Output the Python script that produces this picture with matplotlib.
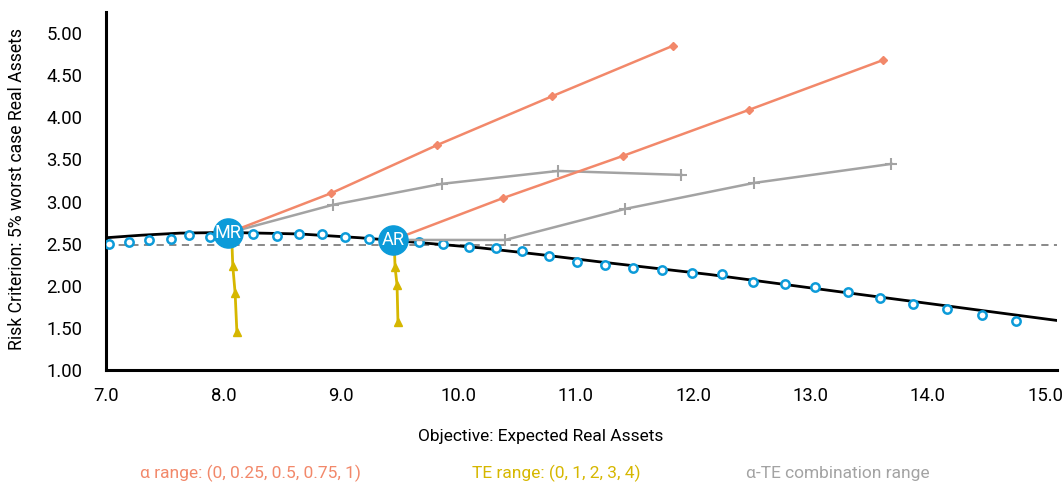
import matplotlib
matplotlib.use("Agg")
import matplotlib.pyplot as plt
import numpy as np

plt.rcParams['font.family'] = ['Roboto', 'DejaVu Sans']

# efficient frontier points (blue circles)
front_x = [7.03, 7.20, 7.37, 7.55, 7.71, 7.89, 8.25, 8.46, 8.64, 8.84, 9.04, 9.24,
           9.67, 9.87, 10.09, 10.32, 10.54, 10.77, 11.01, 11.25, 11.49, 11.74, 11.99,
           12.25, 12.51, 12.78, 13.04, 13.32, 13.59, 13.87, 14.16, 14.46, 14.75]
front_y = [2.49, 2.52, 2.54, 2.56, 2.60, 2.58, 2.62, 2.59, 2.62, 2.62, 2.58, 2.56,
           2.52, 2.50, 2.46, 2.45, 2.41, 2.35, 2.28, 2.25, 2.21, 2.19, 2.15,
           2.14, 2.05, 2.02, 1.99, 1.93, 1.86, 1.78, 1.72, 1.65, 1.58]

# smooth frontier (black)
curve_x = [7.0, 7.3, 7.63, 8.04, 8.65, 9.16, 9.44, 10.19, 10.7, 11.21, 12.14, 13.34, 14.2, 15.1]
curve_y = [2.57, 2.60, 2.625, 2.633, 2.615, 2.57, 2.54, 2.45, 2.37, 2.283, 2.134, 1.912, 1.754, 1.588]

threshold = 2.485

# MR / AR portfolios
mr = (8.04, 2.627)
ar = (9.445, 2.544)

# alpha range (orange)
alpha_mr_x = [8.04, 8.92, 9.82, 10.80, 11.83]
alpha_mr_y = [2.627, 3.10, 3.67, 4.25, 4.85]
alpha_ar_x = [9.445, 10.38, 11.40, 12.48, 13.62]
alpha_ar_y = [2.544, 3.04, 3.54, 4.09, 4.68]

# TE range (yellow)
te_mr_x = [8.07, 8.08, 8.10, 8.115]
te_mr_y = [2.62, 2.235, 1.914, 1.451]
te_ar_x = [9.455, 9.462, 9.479, 9.487]
te_ar_y = [2.54, 2.223, 2.01, 1.57]

# alpha-TE combination (gray)
comb_mr_x = [8.04, 8.93, 9.86, 10.85, 11.90]
comb_mr_y = [2.627, 2.96, 3.21, 3.363, 3.316]
comb_ar_x = [9.445, 10.40, 11.42, 12.52, 13.69]
comb_ar_y = [2.544, 2.544, 2.912, 3.221, 3.447]

ORANGE = '#F2886A'
YELLOW = '#D6B700'
GRAY = '#A3A3A3'
BLUE = '#0C9BD9'

fig = plt.figure(figsize=(10.64, 4.86), dpi=100)
ax = fig.add_axes([0.0996, 0.2387, 0.8938, 0.7366])

ax.axhline(threshold, color='#808080', lw=1.3, ls=(0, (4, 3)), zorder=1)
ax.plot(curve_x, curve_y, color='black', lw=2, zorder=2)
ax.plot(front_x, front_y, ls='none', marker='o', ms=6, mfc='white',
        mec=BLUE, mew=1.8, zorder=3)

for xs, ys in [(comb_mr_x, comb_mr_y), (comb_ar_x, comb_ar_y)]:
    ax.plot(xs, ys, color=GRAY, lw=1.8, marker='+', ms=9, mew=1.5, zorder=4)
for xs, ys in [(alpha_mr_x, alpha_mr_y), (alpha_ar_x, alpha_ar_y)]:
    ax.plot(xs, ys, color=ORANGE, lw=1.8, marker='D', ms=4.5, zorder=5)
for xs, ys in [(te_mr_x, te_mr_y), (te_ar_x, te_ar_y)]:
    ax.plot(xs, ys, color=YELLOW, lw=2, marker='^', ms=6, zorder=5)

for (px, py), lab in [(mr, 'MR'), (ar, 'AR')]:
    ax.plot(px, py, marker='o', ms=21, color=BLUE, mec=BLUE, zorder=7)
    ax.text(px, py, lab, color='white', ha='center', va='center',
            fontsize=13, zorder=8)

ax.set_xlim(7.0, 15.1)
ax.set_ylim(1.0, 5.25)
ax.set_xticks(np.arange(7, 16, 1))
ax.set_xticklabels([f'{v:.1f}' for v in np.arange(7, 16, 1)])
ax.set_yticks(np.arange(1, 5.01, 0.5))
ax.set_yticklabels([f'{v:.2f}' for v in np.arange(1, 5.01, 0.5)])
ax.tick_params(length=0, labelsize=13.3)
ax.tick_params(axis='y', pad=17)
ax.tick_params(axis='x', pad=12)
for s in ['top', 'right']:
    ax.spines[s].set_visible(False)
ax.spines['left'].set_linewidth(2.2)
ax.spines['bottom'].set_linewidth(2.2)

fig.text(0.508, 0.101, 'Objective: Expected Real Assets', fontsize=12.5,
         ha='center', va='center')
fig.text(0.016, 0.611, 'Risk Criterion: 5% worst case Real Assets', fontsize=12.7,
         ha='center', va='center', rotation=90)

fig.text(0.235, 0.025, 'α range: (0, 0.25, 0.5, 0.75, 1)', color=ORANGE,
         fontsize=12.5, ha='center', va='center')
fig.text(0.5226, 0.025, 'TE range: (0, 1, 2, 3, 4)', color=YELLOW,
         fontsize=12.5, ha='center', va='center')
fig.text(0.787, 0.025, 'α-TE combination range', color=GRAY,
         fontsize=12.5, ha='center', va='center')

fig.savefig('out.png', dpi=100)
